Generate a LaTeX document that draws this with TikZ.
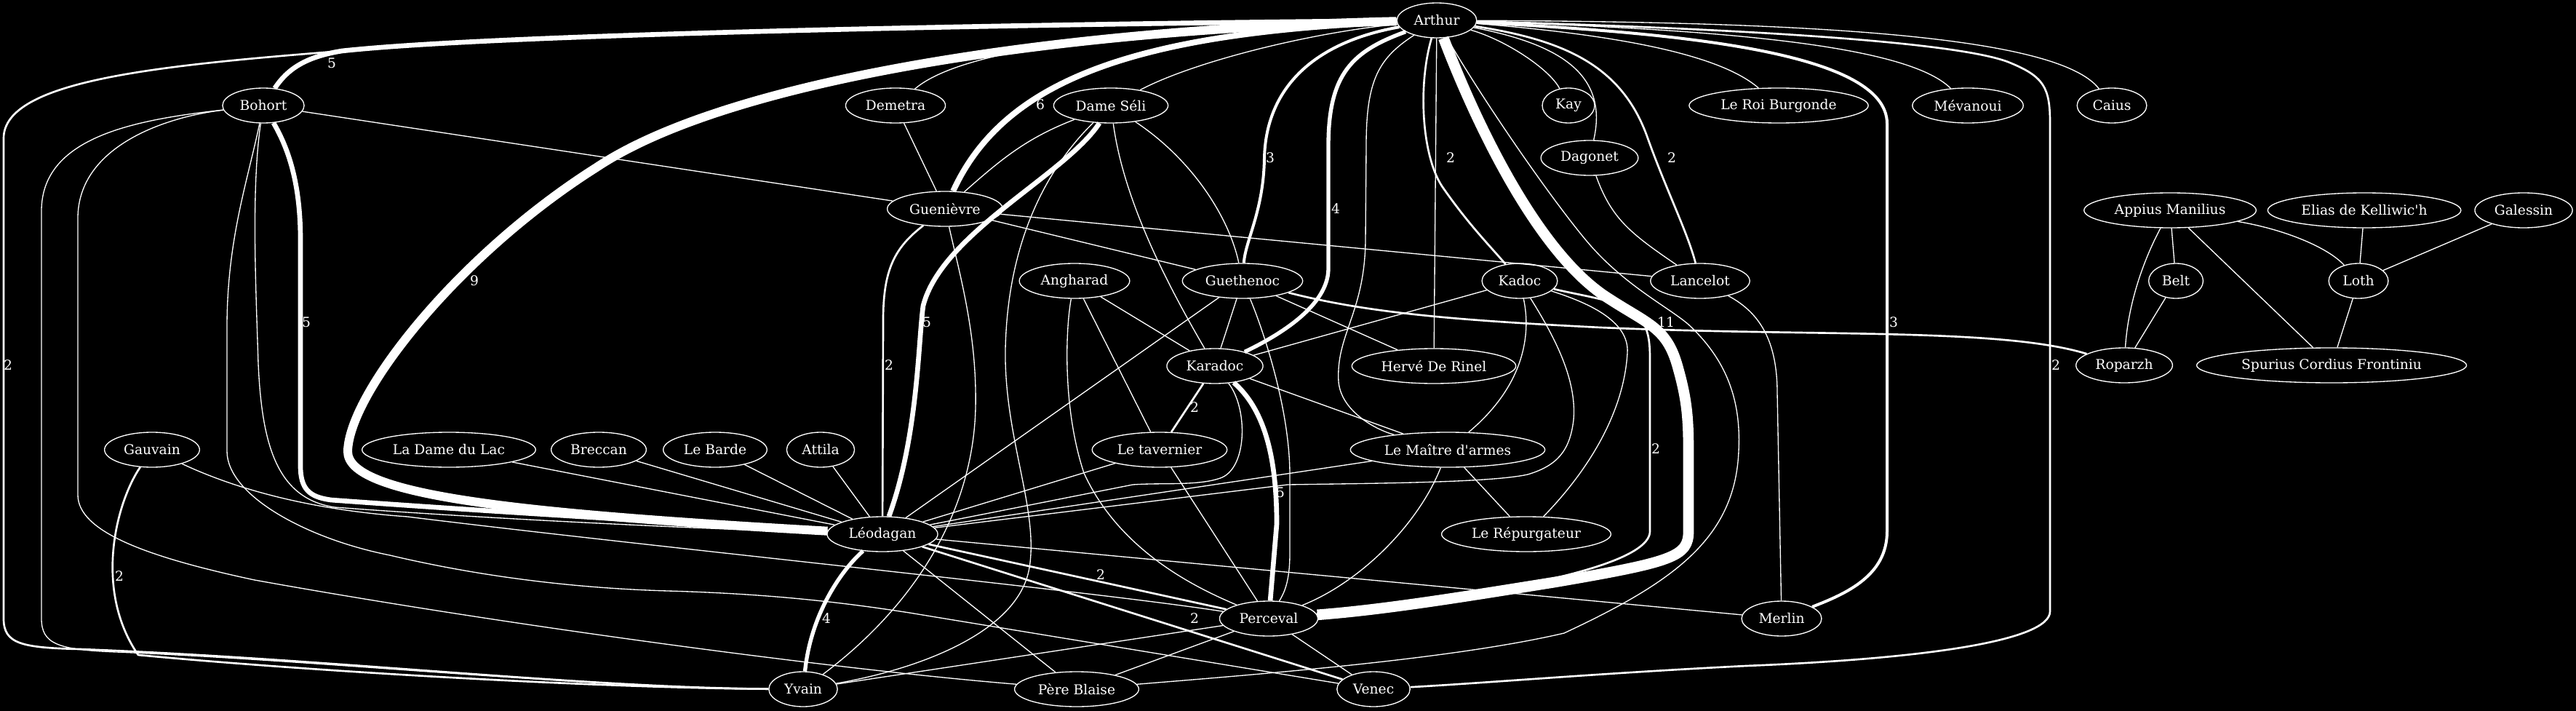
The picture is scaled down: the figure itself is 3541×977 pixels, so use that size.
\documentclass[tikz,border=0pt]{standalone}
\usepackage{fontspec}
\setmainfont{DejaVu Serif}[Ligatures=TeXOff]
\usetikzlibrary{shapes.geometric}
\tikzset{
    charnode/.style={ellipse, draw=white, line width=1pt, text=white,
        minimum width=54pt, minimum height=36pt, inner xsep=5.5pt, inner ysep=3pt,
        font=\fontsize{14}{16}\selectfont},
    bond/.style={draw=white, line width=#1, line join=round},
    bond/.default=1pt,
    wlabel/.style={text=white, inner sep=1pt, font=\fontsize{14}{16}\selectfont},
}

\begin{document}
\begin{tikzpicture}[x=0.75pt, y=-0.75pt]

% Background
\fill[black] (0,0) rectangle (3541,977);
\useasboundingbox (0,0) rectangle (3541,977);

% Top row
\node[charnode] (arthur) at (1975,28) {Arthur};
\node[charnode] (bohort) at (362,145) {Bohort};
\node[charnode] (demetra) at (1231,145) {Demetra};
\node[charnode] (seli) at (1527,145) {Dame Séli};
\node[charnode] (kay) at (2156,145) {Kay};
\node[charnode] (burgonde) at (2445,145) {Le Roi Burgonde};
\node[charnode] (mevanoui) at (2705,145) {Mévanoui};
\node[charnode] (caius) at (2903,145) {Caius};
\node[charnode] (dagonet) at (2185,217) {Dagonet};

% Second rows
\node[charnode] (guenievre) at (1299,287) {Guenièvre};
\node[charnode] (appius) at (2983,289) {Appius Manilius};
\node[charnode] (elias) at (3250,289) {Elias de Kelliwic'h};
\node[charnode] (galessin) at (3469,289) {Galessin};
\node[charnode] (angharad) at (1477,386) {Angharad};
\node[charnode] (guethenoc) at (1708,386) {Guethenoc};
\node[charnode] (kadoc) at (2089,386) {Kadoc};
\node[charnode] (lancelot) at (2337,386) {Lancelot};
\node[charnode] (belt) at (2991,386) {Belt};
\node[charnode] (loth) at (3242,386) {Loth};
\node[charnode] (karadoc) at (1670,503) {Karadoc};
\node[charnode] (herve) at (1971,503) {Hervé De Rinel};
\node[charnode] (roparzh) at (2920,502) {Roparzh};
\node[charnode] (spurius) at (3205,502) {Spurius Cordius Frontiniu};

% Lower rows
\node[charnode] (gauvain) at (209,618) {Gauvain};
\node[charnode] (damelac) at (617,618) {La Dame du Lac};
\node[charnode] (breccan) at (823,618) {Breccan};
\node[charnode] (barde) at (983,618) {Le Barde};
\node[charnode] (attila) at (1128,618) {Attila};
\node[charnode] (tavernier) at (1594,618) {Le tavernier};
\node[charnode] (maitre) at (1990,618) {Le Maître d'armes};
\node[charnode] (leodagan) at (1213,734) {Léodagan};
\node[charnode] (repurgateur) at (2098,734) {Le Répurgateur};
\node[charnode] (perceval) at (1744,850) {Perceval};
\node[charnode] (merlin) at (2449,850) {Merlin};
\node[charnode] (yvain) at (1104,947) {Yvain};
\node[charnode] (blaise) at (1480,947) {Père Blaise};
\node[charnode] (venec) at (1888,947) {Venec};

% Arthur
\draw[bond=5pt] (arthur) .. controls (1500,32) and (700,45) .. (470,70) .. controls (420,78) and (395,95) .. (bohort);
\draw[bond=2pt] (arthur) .. controls (1500,32) and (700,45) .. (470,70) .. controls (220,90) and (5,110) .. (5,190) -- (5,850) .. controls (5,885) and (30,890) .. (110,892) .. controls (450,905) and (800,945) .. (yvain);
\draw[bond=9pt] (arthur) .. controls (1450,40) and (1000,110) .. (820,230) .. controls (630,350) and (480,540) .. (478,620) .. controls (477,680) and (700,705) .. (leodagan);
\draw[bond] (arthur) .. controls (1600,38) and (1330,60) .. (demetra);
\draw[bond=6pt] (arthur) .. controls (1560,45) and (1380,110) .. (guenievre);
\draw[bond] (arthur) .. controls (1800,45) and (1640,85) .. (seli);
\draw[bond=3pt] (arthur) .. controls (1795,60) and (1740,130) .. (1738,217) .. controls (1737,290) and (1712,330) .. (guethenoc);
\draw[bond=4pt] (arthur) .. controls (1860,70) and (1826,100) .. (1826,200) -- (1826,370) .. controls (1825,420) and (1760,460) .. (karadoc);
\draw[bond] (arthur) .. controls (1895,80) and (1878,110) .. (1878,200) -- (1877,330) .. controls (1876,430) and (1836,460) .. (1840,525) .. controls (1844,565) and (1890,590) .. (maitre);
\draw[bond] (arthur) -- (herve);
\draw[bond=2pt] (arthur) .. controls (1948,120) and (1955,220) .. (1985,260) .. controls (2020,310) and (2050,340) .. (kadoc);
\draw[bond=11pt] (arthur) .. controls (2010,120) and (2100,340) .. (2211,410) .. controls (2265,445) and (2290,450) .. (2305,500) .. controls (2318,545) and (2321,570) .. (2321,620) -- (2321,730) .. controls (2321,765) and (2300,772) .. (2137,800) .. controls (2000,822) and (1900,838) .. (perceval);
\draw[bond] (arthur) .. controls (2070,55) and (2130,95) .. (kay);
\draw[bond] (arthur) .. controls (2140,60) and (2212,100) .. (dagonet);
\draw[bond=2pt] (arthur) .. controls (2150,55) and (2230,90) .. (2265,190) .. controls (2290,260) and (2320,320) .. (lancelot);
\draw[bond] (arthur) .. controls (2250,50) and (2370,80) .. (burgonde);
\draw[bond] (arthur) .. controls (2350,40) and (2620,60) .. (mevanoui);
\draw[bond=3pt] (arthur) .. controls (2300,45) and (2594,70) .. (2594,170) -- (2594,730) .. controls (2594,790) and (2540,815) .. (merlin);
\draw[bond=2pt] (arthur) .. controls (2350,38) and (2680,55) .. (2760,85) .. controls (2810,105) and (2818,120) .. (2818,170) -- (2818,840) .. controls (2818,880) and (2650,905) .. (2400,915) .. controls (2200,925) and (2050,938) .. (venec);
\draw[bond] (arthur) .. controls (2500,30) and (2830,50) .. (caius);
\draw[bond] (arthur) .. controls (2040,140) and (2130,270) .. (2180,330) .. controls (2230,390) and (2290,420) .. (2320,445) .. controls (2380,500) and (2393,560) .. (2390,620) .. controls (2385,740) and (2300,800) .. (2150,870) .. controls (2000,905) and (1750,925) .. (blaise);

% Bohort
\draw[bond] (bohort) -- (guenievre);
\draw[bond=5pt] (bohort) .. controls (400,210) and (413,260) .. (413,330) -- (413,640) .. controls (413,672) and (425,683) .. (455,687) .. controls (700,705) and (1000,722) .. (leodagan);
\draw[bond] (bohort) .. controls (345,260) and (352,400) .. (355,500) .. controls (360,610) and (380,685) .. (460,697) .. controls (700,715) and (1000,728) .. (leodagan);
\draw[bond] (bohort) .. controls (340,250) and (312,330) .. (312,450) -- (312,620) .. controls (312,680) and (420,740) .. (536,763) .. controls (650,790) and (780,808) .. (918,812) .. controls (1060,816) and (1160,828) .. (1250,842) -- (venec);
\draw[bond] (bohort) .. controls (230,160) and (107,200) .. (107,300) -- (107,680) .. controls (107,730) and (200,765) .. (350,797) .. controls (700,860) and (1150,920) .. (blaise);
\draw[bond] (bohort) .. controls (180,165) and (57,190) .. (57,290) -- (57,850) .. controls (57,885) and (80,893) .. (160,896) .. controls (450,908) and (800,945) .. (yvain);

% Gauvain
\draw[bond=2pt] (gauvain) .. controls (160,690) and (128,810) .. (190,900) .. controls (400,920) and (800,945) .. (yvain);
\draw[bond] (gauvain) .. controls (320,670) and (420,700) .. (560,710) .. controls (900,752) and (1500,812) .. (perceval);

% Guenievre
\draw[bond] (demetra) -- (guenievre);
\draw[bond] (seli) .. controls (1410,190) and (1375,220) .. (guenievre);
\draw[bond] (guenievre) -- (lancelot);
\draw[bond] (guenievre) -- (guethenoc);
\draw[bond=2pt] (guenievre) .. controls (1230,340) and (1214,370) .. (1214,440) -- (leodagan);
\draw[bond] (guenievre) .. controls (1320,380) and (1343,460) .. (1341,560) .. controls (1338,700) and (1260,830) .. (yvain);

% Dame Seli
\draw[bond=5pt] (seli) .. controls (1465,240) and (1295,320) .. (1269,420) .. controls (1262,470) and (1262,600) .. (leodagan);
\draw[bond] (seli) .. controls (1640,220) and (1690,300) .. (guethenoc);
\draw[bond] (seli) .. controls (1545,280) and (1610,400) .. (karadoc);
\draw[bond] (seli) .. controls (1440,230) and (1385,330) .. (1382,480) .. controls (1380,600) and (1428,700) .. (1415,780) .. controls (1400,870) and (1260,920) .. (yvain);

% Guethenoc
\draw[bond] (guethenoc) -- (karadoc);
\draw[bond] (guethenoc) -- (herve);
\draw[bond] (guethenoc) -- (leodagan);
\draw[bond] (guethenoc) .. controls (1735,450) and (1773,560) .. (1773,653) -- (1773,760) .. controls (1773,800) and (1765,815) .. (perceval);
\draw[bond=2pt] (guethenoc) .. controls (1880,430) and (2000,440) .. (2200,450) .. controls (2500,463) and (2750,450) .. (roparzh);

% Angharad
\draw[bond] (angharad) -- (karadoc);
\draw[bond] (angharad) -- (tavernier);
\draw[bond] (angharad) .. controls (1465,450) and (1460,560) .. (1490,650) .. controls (1540,760) and (1650,810) .. (perceval);

% Karadoc
\draw[bond] (kadoc) -- (karadoc);
\draw[bond=2pt] (karadoc) -- (tavernier);
\draw[bond=5pt] (karadoc) .. controls (1735,560) and (1755,620) .. (1755,720) -- (perceval);
\draw[bond] (karadoc) -- (maitre);
\draw[bond] (karadoc) .. controls (1715,560) and (1715,640) .. (1680,656) .. controls (1650,668) and (1600,663) .. (1557,666) -- (leodagan);

% Kadoc
\draw[bond] (kadoc) .. controls (2105,460) and (2095,530) .. (maitre);
\draw[bond] (kadoc) .. controls (2135,460) and (2168,520) .. (2163,577) .. controls (2158,620) and (2140,640) .. (2100,652) .. controls (2050,663) and (1900,664) .. (1770,666) -- (leodagan);
\draw[bond] (kadoc) .. controls (2180,415) and (2240,440) .. (2237,485) .. controls (2232,570) and (2180,650) .. (repurgateur);
\draw[bond=2pt] (kadoc) .. controls (2190,410) and (2250,415) .. (2262,450) .. controls (2268,465) and (2268,480) .. (2268,500) -- (2268,730) .. controls (2268,790) and (1950,830) .. (perceval);

% Le Maitre d'armes
\draw[bond] (maitre) -- (repurgateur);
\draw[bond] (maitre) -- (leodagan);
\draw[bond] (maitre) .. controls (1950,720) and (1870,800) .. (perceval);

% Lancelot
\draw[bond] (dagonet) .. controls (2215,300) and (2240,320) .. (lancelot);
\draw[bond] (lancelot) .. controls (2420,430) and (2443,470) .. (2443,540) -- (merlin);

% Leodagan
\draw[bond] (damelac) -- (leodagan);
\draw[bond] (breccan) -- (leodagan);
\draw[bond] (barde) -- (leodagan);
\draw[bond] (attila) -- (leodagan);
\draw[bond] (tavernier) -- (leodagan);
\draw[bond=4pt] (leodagan) .. controls (1160,780) and (1115,840) .. (yvain);
\draw[bond=2pt] (leodagan) -- (perceval);
\draw[bond=2pt] (leodagan) -- (venec);
\draw[bond] (leodagan) -- (merlin);
\draw[bond] (leodagan) -- (blaise);

% Perceval
\draw[bond] (tavernier) -- (perceval);
\draw[bond] (yvain) -- (perceval);
\draw[bond] (perceval) -- (blaise);
\draw[bond] (perceval) -- (venec);

% Appius Manilius group
\draw[bond] (appius) .. controls (2945,360) and (2925,420) .. (roparzh);
\draw[bond] (appius) -- (belt);
\draw[bond] (appius) -- (spurius);
\draw[bond] (appius) .. controls (3140,315) and (3200,340) .. (loth);
\draw[bond] (belt) -- (roparzh);
\draw[bond] (elias) -- (loth);
\draw[bond] (galessin) -- (loth);
\draw[bond] (loth) -- (spurius);

% Weights
\node[wlabel] (w1) at (456,87) {5};
\node[wlabel] (w2) at (11,502) {2};
\node[wlabel] (w3) at (652,386) {9};
\node[wlabel] (w4) at (1430,144) {6};
\node[wlabel] (w5) at (1746,217) {3};
\node[wlabel] (w6) at (1836,287) {4};
\node[wlabel] (w7) at (1994,217) {2};
\node[wlabel] (w8) at (2298,217) {2};
\node[wlabel] (w9) at (2290,443) {11};
\node[wlabel] (w10) at (2603,443) {3};
\node[wlabel] (w11) at (2826,502) {2};
\node[wlabel] (w12) at (421,443) {5};
\node[wlabel] (w13) at (1222,502) {2};
\node[wlabel] (w14) at (1274,443) {5};
\node[wlabel] (w15) at (1642,560) {2};
\node[wlabel] (w16) at (1760,677) {5};
\node[wlabel] (w17) at (2276,617) {2};
\node[wlabel] (w18) at (164,792) {2};
\node[wlabel] (w19) at (1136,850) {4};
\node[wlabel] (w20) at (1513,790) {2};
\node[wlabel] (w21) at (1642,850) {2};

\end{tikzpicture}
\end{document}
